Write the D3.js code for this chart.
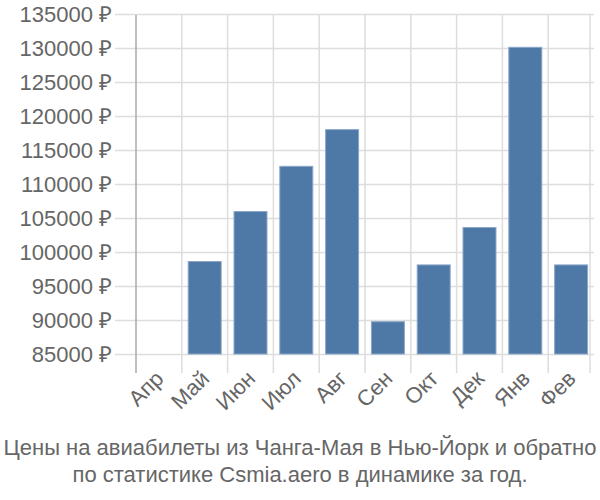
<!DOCTYPE html>
<html>
<head>
<meta charset="utf-8">
<script src="https://cdn.jsdelivr.net/npm/d3@7"></script>
<style>
    body { margin: 0; background: #fff; }
    svg { display: block; font-family: "Liberation Sans", Arial, sans-serif; }
</style>
</head>
<body>
<div id="chart"></div>
<script>
// monthly prices, rub
const MONTHS = ["Апр", "Май", "Июн", "Июл", "Авг", "Сен", "Окт", "Дек", "Янв", "Фев"];
const PRICES = [85000, 98600, 105950, 112600, 118000, 89750, 98100, 103600, 130100, 98100];
const Y_TICKS = [85000, 90000, 95000, 100000, 105000, 110000, 115000, 120000, 125000, 130000, 135000];
const TITLE_LINES = [
    "Цены на авиабилеты из Чанга-Мая в Нью-Йорк и обратно",
    "по статистике Csmia.aero в динамике за год."
];

const W = 600, H = 500;
const margin = { top: 14, right: 6, bottom: 146, left: 136 };
const innerW = W - margin.left - margin.right;
const innerH = H - margin.top - margin.bottom;

const svg = d3.select("#chart").append("svg")
    .attr("width", W)
    .attr("height", H);

const g = svg.append("g")
    .attr("transform", `translate(${margin.left},${margin.top})`);

// scales
const x = d3.scaleBand()
    .domain(MONTHS)
    .range([0, 458])
    .paddingInner(0.28)
    .paddingOuter(0.14);

const y = d3.scaleLinear()
    .domain([85000, 135000])
    .range([innerH, 0]);

// horizontal grid + labels
g.append("g")
    .call(d3.axisLeft(y).tickValues(Y_TICKS).tickSize(-(innerW + 21)).tickPadding(3)
        .tickFormat(d => d + " ₽"))
    .attr("transform", "translate(-21,0)")
    .call(ax => ax.select(".domain").remove())
    .call(ax => ax.selectAll(".tick line").attr("stroke", "#ddd").attr("stroke-width", 1.5))
    .call(ax => ax.selectAll(".tick text")
        .attr("fill", "#666").attr("font-size", "22px"));

// vertical grid
const edges = MONTHS.map(m => x(m) - x.step() * x.paddingInner() / 2);
edges.push(458 - 4);
g.append("g")
    .selectAll("line")
    .data(edges.slice(1))
    .join("line")
    .attr("x1", d => d).attr("x2", d => d)
    .attr("y1", 0).attr("y2", innerH + 19)
    .attr("stroke", "#ddd")
    .attr("stroke-width", 1.5);

// y axis line
g.append("line")
    .attr("x1", 0).attr("x2", 0)
    .attr("y1", 1).attr("y2", innerH + 19)
    .attr("stroke", "#aaa")
    .attr("stroke-width", 1.5);

// bars
g.selectAll(".bar")
    .data(MONTHS.map((m, i) => ({ m, v: PRICES[i] })))
    .join("rect")
    .attr("class", "bar")
    .attr("x", d => x(d.m))
    .attr("width", x.bandwidth())
    .attr("y", d => y(d.v))
    .attr("height", d => innerH - y(d.v))
    .attr("fill", "#4e78a6")
    .attr("stroke", "#8aa7ca")
    .attr("stroke-width", 1);

// x labels
g.append("g")
    .selectAll("text")
    .data(MONTHS)
    .join("text")
    .attr("transform", d => `translate(${x(d) + x.bandwidth() / 2 + 6},${innerH + 26}) rotate(-45)`)
    .attr("text-anchor", "end")
    .attr("fill", "#666")
    .attr("font-size", "22px")
    .text(d => d);

// title
svg.append("g")
    .selectAll("text")
    .data(TITLE_LINES)
    .join("text")
    .attr("x", W / 2)
    .attr("y", (d, i) => 455 + i * 27)
    .attr("text-anchor", "middle")
    .attr("fill", "#666")
    .attr("font-size", "22px")
    .text(d => d);
</script>
</body>
</html>
